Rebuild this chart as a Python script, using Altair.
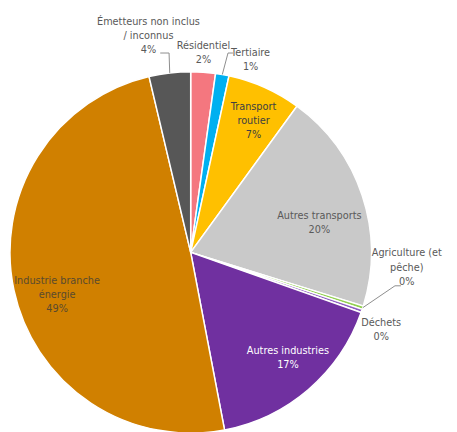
import math
import altair as alt
import pandas as pd

# ---- data ----
categories = ["Résidentiel", "Tertiaire", "Transport routier", "Autres transports",
              "Agriculture (et pêche)", "Déchets", "Autres industries",
              "Industrie branche énergie", "Émetteurs non inclus / inconnus"]
values = [2.2, 1.2, 6.6, 19.8, 0.3, 0.3, 16.6, 49.3, 3.7]
pct_labels = ["2%", "1%", "7%", "20%", "0%", "0%", "17%", "49%", "4%"]
name_lines = [["Résidentiel"], ["Tertiaire"], ["Transport", "routier"], ["Autres transports"],
              ["Agriculture (et", "pêche)"], ["Déchets"], ["Autres industries"],
              ["Industrie branche", "énergie"], ["Émetteurs non inclus", "/ inconnus"]]
colors = ["#F4777F", "#00B0F0", "#FFC000", "#C9C9C9", "#92D050", "#8E5CC2",
          "#7030A0", "#D08000", "#575757"]

# ---- layout (pixels inside the svg) ----
CX, CY, R = 186, 245, 184
LH = 14.5
FONT = "DejaVu Sans Condensed, Liberation Sans Narrow, sans-serif"
label_pos = {  # first-line centre
    "Résidentiel": (199, 35, "#595959"),
    "Tertiaire": (247, 42, "#595959"),
    "Transport routier": (250, 97, "#404040"),
    "Autres transports": (317, 208, "#595959"),
    "Agriculture (et pêche)": (406, 246, "#595959"),
    "Déchets": (380, 317, "#595959"),
    "Autres industries": (285, 345, "#FFFFFF"),
    "Industrie branche énergie": (50, 274, "#594A2E"),
    "Émetteurs non inclus / inconnus": (143, 10, "#595959"),
}
leaders = {  # (elbow, end) for categories with a leader line
    "Émetteurs non inclus / inconnus": [(164, 42), (155, 42)],
    "Tertiaire": [(224, 42), (229, 42)],
    "Agriculture (et pêche)": [(394, 279), (400, 279)],
}

df = pd.DataFrame({"cat": categories, "value": values, "idx": list(range(len(values)))})

# text rows
rows = []
for i, c in enumerate(categories):
    x, y, col = label_pos[c]
    lines = name_lines[i] + [pct_labels[i]]
    for j, t in enumerate(lines):
        rows.append({"cat": c, "t": t, "x": x, "y": y + j * LH, "col": col})
tdf = pd.DataFrame(rows)

# leader lines: start at pie edge at slice mid-angle
total = sum(values)
cum = 0
mids = {}
for c, v in zip(categories, values):
    mids[c] = (cum + v / 2) / total * 2 * math.pi
    cum += v
lrows = []
for c, pts in leaders.items():
    a = mids[c]
    sx, sy = CX + R * math.sin(a), CY - R * math.cos(a)
    seq = [(sx, sy)] + pts
    for k, (px, py) in enumerate(seq):
        lrows.append({"cat": c, "k": k, "x": px, "y": py})
ldf = pd.DataFrame(lrows)

arcs = alt.Chart(df).mark_arc(outerRadius=R, stroke="white", strokeWidth=1.5).encode(
    theta=alt.Theta("value:Q", stack=True),
    order=alt.Order("idx:Q"),
    color=alt.Color("cat:N", scale=alt.Scale(domain=categories, range=colors), legend=None),
    x=alt.value(CX),
    y=alt.value(CY),
)

lines = alt.Chart(ldf).mark_line(color="#8C8C8C", strokeWidth=1).encode(
    x=alt.X("x:Q", scale=None),
    y=alt.Y("y:Q", scale=None),
    detail="cat:N",
    order="k:Q",
)

texts = alt.Chart(tdf).mark_text(font=FONT, fontSize=11, baseline="middle", align="center").encode(
    x=alt.X("x:Q", scale=None),
    y=alt.Y("y:Q", scale=None),
    text="t:N",
    color=alt.Color("col:N", scale=None),
)

chart = alt.layer(arcs, lines, texts).properties(
    width=449, height=424, autosize=alt.AutoSizeParams(type="none"), padding=0
).configure_view(stroke=None)

chart.save("out.html", embed_options={"renderer": "svg", "actions": False})
